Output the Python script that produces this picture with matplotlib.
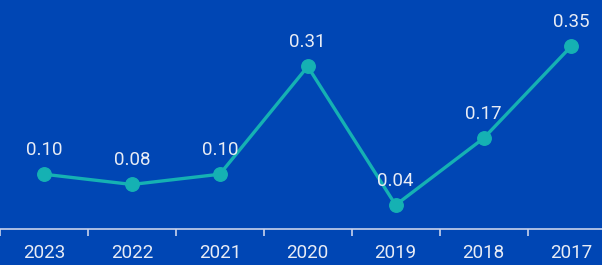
import matplotlib
matplotlib.use('Agg')
import matplotlib.pyplot as plt
import numpy as np

years = ["2023", "2022", "2021", "2020", "2019", "2018", "2017"]
values = [0.10, 0.08, 0.10, 0.31, 0.04, 0.17, 0.35]
value_labels = ["0.10", "0.08", "0.10", "0.31", "0.04", "0.17", "0.35"]

bg = "#0046b4"
teal = "#15b1b3"
txt = "#e8ecf5"

fig = plt.figure(figsize=(6.02, 2.65), dpi=100, facecolor=bg)
ax = fig.add_axes([0, 0.1358, 1, 0.8642])
ax.set_facecolor(bg)

x = np.arange(len(years))
ax.plot(x, values, color=teal, lw=2.4, marker="o", ms=9.7, solid_capstyle="round")

for xi, v, lab in zip(x, values, value_labels):
    ax.annotate(lab, (xi, v), xytext=(0, 14), textcoords="offset points",
                ha="center", va="baseline", color=txt, fontsize=13.5,
                family="Roboto")

ax.set_xlim(-0.494, 6.347)
ax.set_ylim(-0.0068, 0.4396)

for s in ["top", "left", "right"]:
    ax.spines[s].set_visible(False)
ax.spines["bottom"].set_color("#c8d2ec")
ax.spines["bottom"].set_linewidth(1.2)
ax.set_yticks([])

ax.set_xticks(x)
ax.set_xticklabels(years, color=txt, fontsize=13.5, family="Roboto")
ax.tick_params(axis="x", which="major", length=0, pad=11)
ax.set_xticks(np.arange(-0.5, 6.5, 1), minor=True)
ax.tick_params(axis="x", which="minor", length=5, width=1.2, color="#c8d2ec")

fig.savefig("out.png", dpi=100, facecolor=bg)
